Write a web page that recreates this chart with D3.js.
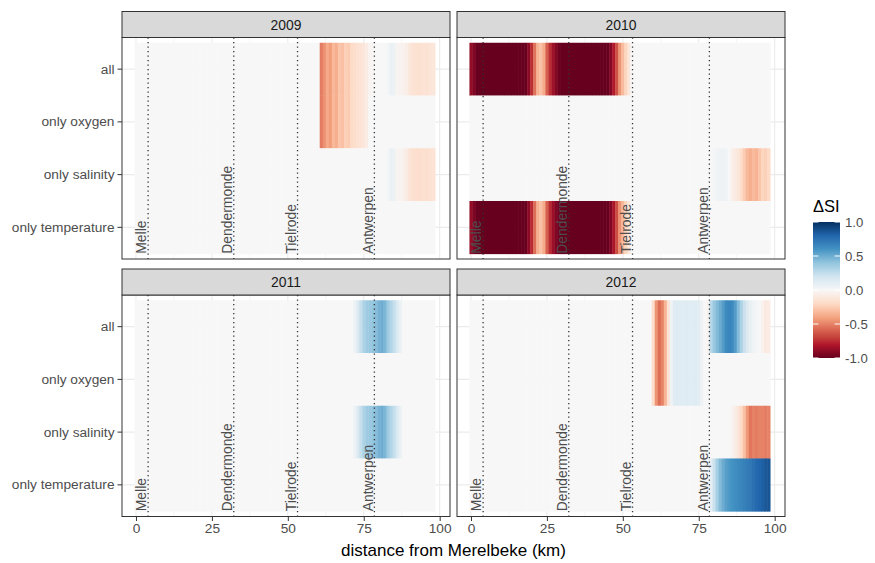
<!DOCTYPE html>
<html>
<head>
<meta charset="utf-8">
<script src="https://cdn.jsdelivr.net/npm/d3@7"></script>
<style>
  body { margin: 0; background: #fff; }
  svg { display: block; font-family: "Liberation Sans", Arial, Helvetica, sans-serif; }
</style>
</head>
<body>
<svg id="chart" width="875" height="563"></svg>
<script>
// ---- data -------------------------------------------------------------
const years = ["2009", "2010", "2011", "2012"];
const scenarios = ["all", "only oxygen", "only salinity", "only temperature"];
const distanceKm = d3.range(0, 99);            // 1-km model cells along the estuary
const xTicks = [0, 25, 50, 75, 100];
const xMinorTicks = [12.5, 37.5, 62.5, 87.5];
const legendBreaks = [1, 0.5, 0, -0.5, -1];
const landmarks = ["Melle", "Dendermonde", "Tielrode", "Antwerpen"];
const landmarkKm = [4.0, 32.2, 53.2, 78.5];
// RdBu palette, red (-1) to blue (+1)
const paletteRdBu = ["#67001f", "#b2182b", "#d6604d", "#f4a582", "#fddbc7", "#f7f7f7",
                     "#d1e5f0", "#92c5de", "#4393c3", "#2166ac", "#053061"];

// non-zero stretches of ΔSI per year: [scenario, first km, values ...]
const dsi2009 = [
  ["all", 61, [-0.52, -0.46, -0.38, -0.42, -0.33, -0.36, -0.28, -0.30, -0.24, -0.26, -0.20, -0.18, -0.16, -0.14, -0.12, -0.08]],
  ["all", 77, [-0.03, -0.01, 0, 0, 0, 0, 0.02, 0.07, 0.06, -0.02, -0.03, -0.04, -0.06, -0.11, -0.14, -0.15, -0.16, -0.15, -0.14, -0.15, -0.13, -0.12]],
  ["only oxygen", 61, [-0.52, -0.46, -0.38, -0.42, -0.33, -0.36, -0.28, -0.30, -0.24, -0.26, -0.20, -0.18, -0.16, -0.14, -0.12, -0.08]],
  ["only salinity", 83, [0.02, 0.07, 0.06, -0.02, -0.03, -0.04, -0.08, -0.13, -0.16, -0.17, -0.18, -0.17, -0.16, -0.17, -0.15, -0.14]]
];
const dsi2010 = [
  ["all", 0, [-0.88, -0.93,
    -1, -1, -1, -1, -1, -1, -1, -1, -1, -1, -1, -1, -1, -1, -1, -1, -1,
    -0.90, -0.75, -0.55, -0.35, -0.30, -0.38, -0.60, -0.75, -0.85, -0.92,
    -0.98, -1, -1, -1, -1, -1, -1, -1, -1, -1, -1, -1, -1, -1, -1, -1, -1,
    -0.92, -0.80, -0.65, -0.45, -0.32, -0.22, -0.12]],
  ["only salinity", 80, [0.02, 0.03, 0.05, 0.05, 0.04, 0, -0.06, -0.09, -0.12, -0.18, -0.26, -0.33, -0.36, -0.32, -0.35, -0.28, -0.22, -0.24, -0.20]],
  ["only temperature", 0, [-0.88, -0.94,
    -1, -1, -1, -1, -1, -1, -1, -1, -1, -1, -1, -1, -1, -1, -1, -1, -1,
    -0.90, -0.76, -0.56, -0.36, -0.30, -0.38, -0.60, -0.76, -0.86, -0.93,
    -0.98, -1, -1, -1, -1, -1, -1, -1, -1, -1, -1, -1, -1, -1, -1, -1, -1,
    -0.93, -0.82, -0.66, -0.46, -0.33, -0.22, -0.12]]
];
const dsi2011 = [
  ["all", 72, [0.06, 0.14, 0.24, 0.32, 0.36, 0.38, 0.40, 0.43, 0.48, 0.50, 0.46, 0.36, 0.30, 0.24, 0.15, 0.07]],
  ["only salinity", 72, [0.06, 0.14, 0.24, 0.32, 0.36, 0.38, 0.40, 0.43, 0.48, 0.50, 0.46, 0.36, 0.30, 0.24, 0.15, 0.07]]
];
const dsi2012 = [
  ["all", 60, [-0.18, -0.45, -0.56, -0.50, -0.34, -0.14, 0.04,
    0.12, 0.13, 0.12, 0.12, 0.13, 0.12, 0.12, 0.13, 0.11, 0.05, 0, -0.03,
    0.28, 0.38, 0.44, 0.50, 0.56, 0.64, 0.66, 0.64, 0.56, 0.44, 0.32, 0.22,
    0.14, 0.08, 0.04, 0.02, 0, -0.04, -0.10, -0.08]],
  ["only oxygen", 60, [-0.18, -0.45, -0.56, -0.50, -0.34, -0.14, 0.04,
    0.12, 0.13, 0.12, 0.12, 0.13, 0.12, 0.12, 0.13, 0.11, 0.05]],
  ["only salinity", 85, [0, -0.03, -0.07, -0.13, -0.20, -0.30, -0.44, -0.54, -0.50, -0.52, -0.50, -0.50, -0.52, -0.50]],
  ["only temperature", 79, [0.10, 0.22, 0.34, 0.44, 0.50, 0.55, 0.58, 0.60, 0.62, 0.64, 0.66, 0.68, 0.70, 0.72, 0.75, 0.78, 0.80, 0.82, 0.85, 0.86]]
];
const stretchesByYear = [dsi2009, dsi2010, dsi2011, dsi2012];

// full grid: every scenario x km cell, zero where no stretch covers it
function buildCells(stretches) {
  const cells = [];
  scenarios.forEach(sc => {
    distanceKm.forEach(km => cells.push({ scenario: sc, km: km, value: 0 }));
  });
  stretches.forEach(([sc, start, vals]) => {
    vals.forEach((v, i) => {
      const c = cells.find(d => d.scenario === sc && d.km === start + i);
      if (c) c.value = v;
    });
  });
  return cells;
}

// ---- layout -----------------------------------------------------------
const svg = d3.select("#chart");
const FONT_AX = 13.7;
const colBox = [{ x0: 122, x1: 450 }, { x0: 457, x1: 785 }];
const rowBox = [{ s0: 11.5, y0: 37.5, y1: 259 }, { s0: 269, y0: 295, y1: 516.5 }];
const rdbu = d3.piecewise(d3.interpolateLab, paletteRdBu);
const color = v => rdbu((Math.max(-1, Math.min(1, v)) + 1) / 2);

years.forEach((yr, i) => {
  const cb = colBox[i % 2], rb = rowBox[Math.floor(i / 2)];
  const x = d3.scaleLinear().domain([-4.6, 103.4]).range([cb.x0, cb.x1]);
  const y = d3.scaleBand().domain(scenarios).range([rb.y0, rb.y1]).paddingInner(0).paddingOuter(0.1);
  const g = svg.append("g");

  // panel background + grid
  g.append("rect").attr("x", cb.x0).attr("y", rb.y0).attr("width", cb.x1 - cb.x0).attr("height", rb.y1 - rb.y0).attr("fill", "#fff");
  g.selectAll(".minor").data(xMinorTicks).join("line")
    .attr("x1", d => x(d)).attr("x2", d => x(d)).attr("y1", rb.y0).attr("y2", rb.y1)
    .attr("stroke", "#f0f0f0").attr("stroke-width", 0.6);
  g.selectAll(".major").data(xTicks).join("line")
    .attr("x1", d => x(d)).attr("x2", d => x(d)).attr("y1", rb.y0).attr("y2", rb.y1)
    .attr("stroke", "#ebebeb").attr("stroke-width", 1.1);
  g.selectAll(".hgrid").data(scenarios).join("line")
    .attr("x1", cb.x0).attr("x2", cb.x1).attr("y1", d => y(d) + y.bandwidth() / 2).attr("y2", d => y(d) + y.bandwidth() / 2)
    .attr("stroke", "#ebebeb").attr("stroke-width", 1.1);

  // heat tiles
  const cells = buildCells(stretchesByYear[i]);
  g.selectAll(".tile").data(cells).join("rect")
    .attr("x", d => x(d.km - 0.5))
    .attr("width", d => x(d.km + 0.5) - x(d.km - 0.5) + 0.4)
    .attr("y", d => y(d.scenario))
    .attr("height", y.bandwidth() + 0.4)
    .attr("fill", d => color(d.value));

  // landmark lines and names
  g.selectAll(".lm").data(landmarkKm).join("line")
    .attr("x1", d => x(d)).attr("x2", d => x(d)).attr("y1", rb.y0).attr("y2", rb.y1)
    .attr("stroke", "#333").attr("stroke-width", 1.3).attr("stroke-dasharray", "1.3,3.2");
  const baseY = y(scenarios[3]) + y.bandwidth();
  g.selectAll(".lmtxt").data(landmarks).join("text")
    .attr("transform", (d, j) => `translate(${x(landmarkKm[j]) - 1.8},${baseY}) rotate(-90)`)
    .attr("text-anchor", "start")
    .attr("fill", "#4d4d4d").attr("font-size", 13.9)
    .text(d => d);

  // border
  g.append("rect").attr("x", cb.x0).attr("y", rb.y0).attr("width", cb.x1 - cb.x0).attr("height", rb.y1 - rb.y0)
    .attr("fill", "none").attr("stroke", "#333").attr("stroke-width", 1);

  // strip
  g.append("rect").attr("x", cb.x0).attr("y", rb.s0).attr("width", cb.x1 - cb.x0).attr("height", rb.y0 - rb.s0)
    .attr("fill", "#d9d9d9").attr("stroke", "#333").attr("stroke-width", 1);
  g.append("text").attr("x", (cb.x0 + cb.x1) / 2).attr("y", (rb.s0 + rb.y0) / 2)
    .attr("text-anchor", "middle").attr("dominant-baseline", "central")
    .attr("fill", "#1a1a1a").attr("font-size", 13.9).text(yr);

  // y axis on the left column
  if (i % 2 === 0) {
    const ya = g.append("g").attr("transform", `translate(${cb.x0},0)`)
      .call(d3.axisLeft(y).tickSize(4.5).tickPadding(3));
    ya.select(".domain").remove();
    ya.selectAll(".tick line").attr("stroke", "#333");
    ya.selectAll(".tick text").attr("fill", "#4d4d4d").attr("font-size", FONT_AX)
      .attr("font-family", "Liberation Sans, Arial, sans-serif");
  }
  // x axis on the bottom row
  if (i >= 2) {
    const xa = g.append("g").attr("transform", `translate(0,${rb.y1})`)
      .call(d3.axisBottom(x).tickValues(xTicks).tickFormat(d3.format("d")).tickSize(4.5).tickPadding(2.5));
    xa.select(".domain").remove();
    xa.selectAll(".tick line").attr("stroke", "#333");
    xa.selectAll(".tick text").attr("fill", "#4d4d4d").attr("font-size", FONT_AX)
      .attr("font-family", "Liberation Sans, Arial, sans-serif");
  }
});

// axis title
svg.append("text").attr("x", (colBox[0].x0 + colBox[1].x1) / 2).attr("y", 550)
  .attr("text-anchor", "middle").attr("dominant-baseline", "central")
  .attr("font-size", 17).attr("fill", "#000").text("distance from Merelbeke (km)");

// ---- colour bar legend -----------------------------------------------
const lg = { x: 813, y0: 222, y1: 358, w: 27 };
const ly = d3.scaleLinear().domain([1, -1]).range([lg.y0, lg.y1]);
const grad = svg.append("defs").append("linearGradient").attr("id", "dsiGrad")
  .attr("x1", 0).attr("x2", 0).attr("y1", 0).attr("y2", 1);
d3.range(0, 1.0001, 0.05).forEach(t => {
  grad.append("stop").attr("offset", t).attr("stop-color", color(1 - 2 * t));
});
svg.append("rect").attr("x", lg.x).attr("y", lg.y0).attr("width", lg.w).attr("height", lg.y1 - lg.y0)
  .attr("fill", "url(#dsiGrad)");
const tl = lg.w / 5;
svg.selectAll(".lgtick").data(legendBreaks).join("g").each(function (d) {
  const gg = d3.select(this);
  gg.append("line").attr("x1", lg.x).attr("x2", lg.x + tl).attr("y1", ly(d)).attr("y2", ly(d)).attr("stroke", "#fff").attr("stroke-width", 1);
  gg.append("line").attr("x1", lg.x + lg.w - tl).attr("x2", lg.x + lg.w).attr("y1", ly(d)).attr("y2", ly(d)).attr("stroke", "#fff").attr("stroke-width", 1);
});
svg.selectAll(".lglab").data(legendBreaks).join("text")
  .attr("x", lg.x + lg.w + 5).attr("y", d => ly(d)).attr("dominant-baseline", "central")
  .attr("font-size", 13.2).attr("fill", "#4d4d4d").text(d => d3.format(".1f")(d).replace("−", "-"));
svg.append("text").attr("x", lg.x).attr("y", 206).attr("dominant-baseline", "central")
  .attr("font-size", 16.5).attr("fill", "#000").text("ΔSI");
</script>
</body>
</html>
